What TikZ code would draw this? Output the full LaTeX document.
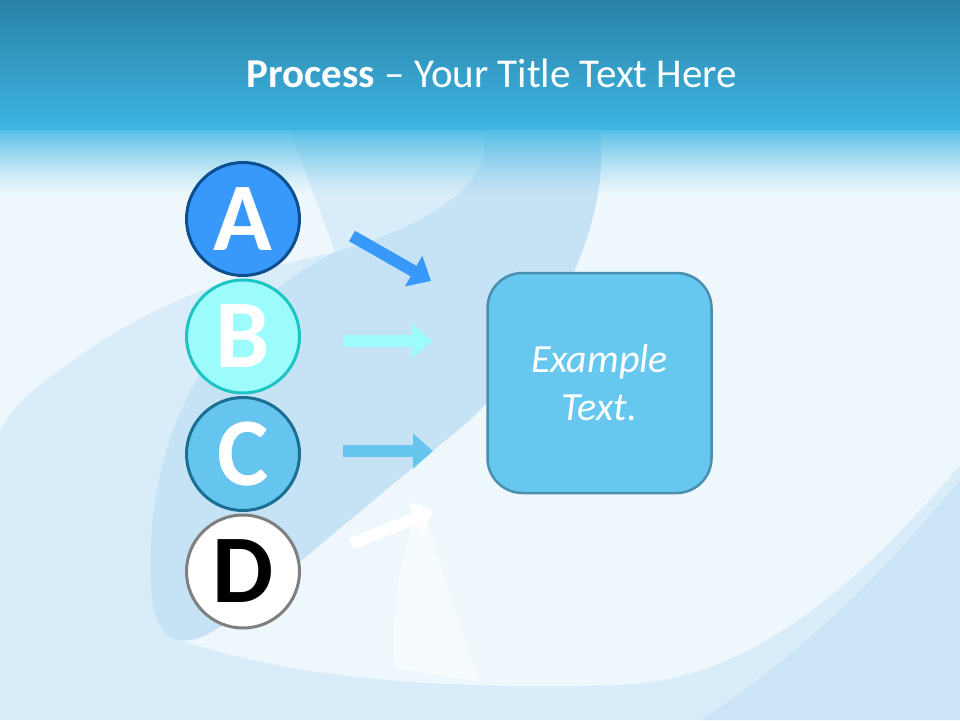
\documentclass[tikz,border=0pt]{standalone}
\usepackage{fontspec}
\setmainfont{Carlito}
\usetikzlibrary{arrows.meta}
\definecolor{bandtop}{HTML}{2A82A6}
\definecolor{bandbot}{HTML}{3EB5E3}
\definecolor{bgmid}{HTML}{D8EDF9}
\definecolor{bglight}{HTML}{EDF7FC}
\definecolor{bgdark}{HTML}{C6E3F5}
\definecolor{cA}{HTML}{3899FA}
\definecolor{cAb}{HTML}{0D4F8E}
\definecolor{cB}{HTML}{9CFCFC}
\definecolor{cBb}{HTML}{1CC4C4}
\definecolor{cC}{HTML}{66C5EE}
\definecolor{cCb}{HTML}{1A6F92}
\definecolor{cDb}{HTML}{7F7F7F}
\definecolor{boxfill}{HTML}{66C8EF}
\definecolor{boxdraw}{HTML}{4A8EB0}
\tikzset{
  letterc/.style={circle, minimum size=113pt, inner sep=0pt, line width=3pt,
    font=\fontsize{97}{97}\selectfont\bfseries, text=white},
  blockarrow/.style={line width=12pt, -{Triangle[width=34pt,length=20pt]}},
  examplebox/.style={rectangle, rounded corners=35pt, minimum width=224pt,
    minimum height=220pt, line width=2.5pt, fill=boxfill, draw=boxdraw,
    text=white, align=center, font=\fontsize{40}{48}\selectfont\itshape},
  titletext/.style={text=white, font=\fontsize{41}{48}\selectfont, inner sep=0pt}
}
\begin{document}
\begin{tikzpicture}[x=1pt,y=-1pt]
\useasboundingbox (0,0) rectangle (960,720);
% background
\fill[bgmid] (0,0) rectangle (960,720);
\fill[bglight] (600,130) -- (960,130) -- (960,465)
  .. controls (870,570) and (760,680) .. (620,685)
  .. controls (450,690) and (300,680) .. (180,640)
  -- (470,420)
  .. controls (560,330) and (610,220) .. (600,130) -- cycle;
\fill[bglight] (0,130) -- (290,130) -- (335,252)
  .. controls (250,270) and (150,300) .. (60,370)
  .. controls (30,390) and (10,410) .. (0,430) -- cycle;
\fill[bgdark] (480,130) -- (600,130)
  .. controls (610,220) and (560,330) .. (470,420)
  -- (230,620)
  .. controls (190,650) and (160,650) .. (152,600)
  .. controls (140,450) and (200,320) .. (335,252)
  .. controls (450,220) and (500,170) .. (480,130) -- cycle;
\fill[bgdark, fill opacity=0.7] (960,480) .. controls (870,590) and (780,670) .. (700,720) -- (960,720) -- cycle;
\fill[white, fill opacity=0.5] (420,500) .. controls (395,570) and (390,630) .. (395,668)
  -- (480,682) .. controls (450,600) and (435,540) .. (420,500) -- cycle;
% title band with fade
\foreach \i in {0,...,32} {
  \pgfmathsetmacro{\op}{0.85*(1-\i/33)^1.3}
  \fill[bandbot, fill opacity=\op] (0,129+2*\i) rectangle (960,131+2*\i);
}
\shade[top color=bandtop, bottom color=bandbot] (0,0) rectangle (960,129.5);
\node[titletext, anchor=base] (title) at (492,87) {\textbf{Process} – Your Title Text Here};
% circles
\node[letterc, fill=cA, draw=cAb] (A) at (243,219) {A};
\node[letterc, fill=cB, draw=cBb] (B) at (243,336.5) {B};
\node[letterc, fill=cC, draw=cCb] (C) at (243,454) {C};
\node[letterc, fill=white, draw=cDb, text=black] (D) at (243,571.5) {D};
% box
\node[examplebox] (box) at (599.5,383) {Example\\Text.};
% arrows
\coordinate (a1s) at (352,236);
\coordinate (a1e) at (431,281);
\coordinate (a2s) at (343,341);
\coordinate (a2e) at (432,341);
\coordinate (a3s) at (343,451);
\coordinate (a3e) at (433,451);
\coordinate (a4s) at (351,544);
\coordinate (a4e) at (434,511);
\draw[blockarrow, cA] (a1s) -- (a1e);
\draw[blockarrow, cB] (a2s) -- (a2e);
\draw[blockarrow, cC] (a3s) -- (a3e);
\draw[blockarrow, white] (a4s) -- (a4e);
\end{tikzpicture}
\end{document}
